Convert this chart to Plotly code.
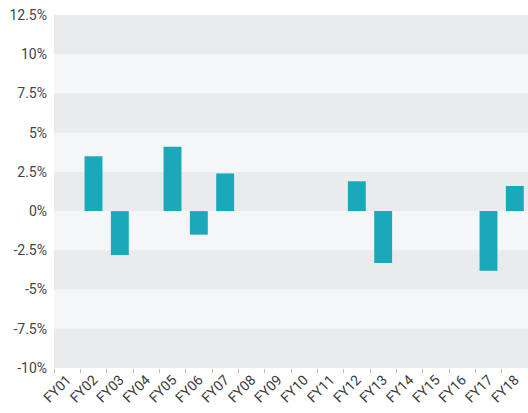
import plotly.graph_objects as go

# Annual change by fiscal year (%)
years = ["FY01", "FY02", "FY03", "FY04", "FY05", "FY06", "FY07", "FY08", "FY09",
         "FY10", "FY11", "FY12", "FY13", "FY14", "FY15", "FY16", "FY17", "FY18"]
change = [None, 3.5, -2.8, None, 4.1, -1.5, 2.4, None, None,
          None, None, 1.9, -3.3, None, None, None, -3.8, 1.6]

y_ticks = [-10, -7.5, -5, -2.5, 0, 2.5, 5, 7.5, 10, 12.5]
y_labels = ["-10%", "-7.5%", "-5%", "-2.5%", "0%", "2.5%", "5%", "7.5%", "10%", "12.5%"]

BAR = "#19A9BA"
BAND_DARK = "#EAEBED"
BAND_LIGHT = "#F5F6F8"

fig = go.Figure(go.Bar(x=years, y=change, marker=dict(color=BAR, line=dict(width=0))))

# Alternating horizontal bands, darker ones starting at the bottom
shapes = []
for i in range(0, len(y_ticks) - 1, 2):
    shapes.append(dict(type="rect", xref="paper", yref="y", x0=0, x1=1,
                       y0=y_ticks[i], y1=y_ticks[i + 1],
                       fillcolor=BAND_DARK, line=dict(width=0), layer="below"))

fig.update_layout(
    width=528, height=413,
    margin=dict(l=54, r=0, t=15, b=45),
    paper_bgcolor="white",
    plot_bgcolor=BAND_LIGHT,
    font=dict(family="Roboto", size=14, color="#444444"),
    bargap=0.32,
    showlegend=False,
    shapes=shapes,
    xaxis=dict(
        type="category",
        tickson="boundaries",
        ticks="outside", ticklen=4, tickcolor="#BBBBBB", tickwidth=1,
        tickangle=-45,
        tickfont=dict(size=14, color="#3a3a3a"),
        showgrid=False, zeroline=False, showline=False,
    ),
    yaxis=dict(
        range=[-10, 12.5],
        tickvals=y_ticks, ticktext=y_labels,
        showgrid=False, zeroline=False, showline=False,
        ticks="", ticklabelstandoff=6,
        tickfont=dict(size=14, color="#444444"),
    ),
)

fig.write_html("out.html")
